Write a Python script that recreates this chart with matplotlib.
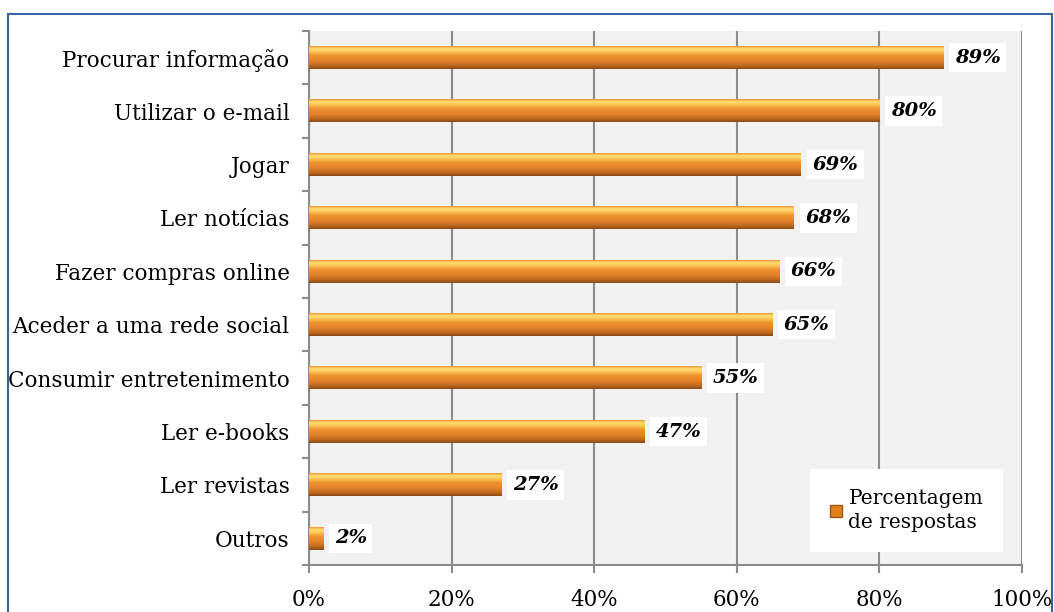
import matplotlib
matplotlib.use("Agg")
from matplotlib import pyplot as plt
from matplotlib.colors import LinearSegmentedColormap
from matplotlib.patches import Rectangle
import numpy as np

categorias = ["Procurar informação", "Utilizar o e-mail", "Jogar", "Ler notícias",
              "Fazer compras online", "Aceder a uma rede social",
              "Consumir entretenimento", "Ler e-books", "Ler revistas", "Outros"]
valores = [89, 80, 69, 68, 66, 65, 55, 47, 27, 2]
ticks_x = [0, 20, 40, 60, 80, 100]
rotulos_x = ["0%", "20%", "40%", "60%", "80%", "100%"]

plt.rcParams['font.family'] = ['DejaVu Serif']

fig = plt.figure(figsize=(10.54, 6.12), dpi=100)
# moldura azul
fig.patches.append(Rectangle((8/1054, -0.01), 1044/1054, 1 - 14/612 + 0.01,
                             transform=fig.transFigure, fill=False,
                             edgecolor="#3A63A0", linewidth=1.5))

ax = fig.add_axes([309/1054, 1 - 565/612, (1022 - 309)/1054, (565 - 31)/612])
ax.set_facecolor("#F2F2F2")

# degrade das barras (baixo escuro -> faixa clara em cima)
grad = LinearSegmentedColormap.from_list("barra", [
    (0.0, "#8A4A1A"), (0.15, "#C06A20"), (0.35, "#E2822A"), (0.6, "#EE9532"),
    (0.78, "#FFCC5C"), (0.9, "#FFDD70"), (1.0, "#F09434")])
img = np.linspace(0, 1, 64).reshape(-1, 1)

y = np.arange(len(categorias))
h = 0.42
for i, v in enumerate(valores):
    ax.imshow(img, cmap=grad, aspect="auto", origin="lower",
              extent=(0, v, y[i] + h/2, y[i] - h/2), zorder=3, interpolation="bilinear")
    ax.text(v + 1.6, y[i], f"{v}%", va="center", ha="left", fontsize=14,
            fontweight="bold", fontstyle="italic", zorder=5,
            bbox=dict(facecolor="white", edgecolor="none", pad=4))

ax.set_xlim(0, 100)
ax.set_ylim(len(categorias) - 0.5, -0.5)
ax.set_yticks(y)
ax.set_yticklabels(categorias, fontsize=15.5)
ax.set_yticks(np.arange(-0.5, len(categorias)), minor=True)
ax.tick_params(axis="y", which="major", length=0, pad=14)
ax.tick_params(axis="y", which="minor", length=5, color="#8C8C8C", width=1.5)
ax.set_xticks(ticks_x)
ax.set_xticklabels(rotulos_x, fontsize=15.5)
ax.tick_params(axis="x", length=6, color="#8C8C8C", width=1.5, pad=11)
ax.grid(axis="x", color="#8C8C8C", linewidth=1.5, zorder=1)
ax.set_axisbelow(True)
for s in ["top", "right"]:
    ax.spines[s].set_visible(False)
for s in ["left", "bottom"]:
    ax.spines[s].set_color("#8C8C8C")
    ax.spines[s].set_linewidth(1.5)

# legenda
leg = Rectangle((0, 0), 1, 1, facecolor="#E0801E", edgecolor="#9A5518")
lg = ax.legend([leg], ["Percentagem\nde respostas"], loc="lower right",
               bbox_to_anchor=(0.988, 0.005), fontsize=14.5, frameon=True, fancybox=False,
               edgecolor="none", framealpha=1, handlelength=0.6, handleheight=0.6,
               handletextpad=0.3, borderpad=1.0, labelspacing=0.1)
lg.get_texts()[0].set_linespacing(1.35)

plt.savefig("out.png", dpi=100)
